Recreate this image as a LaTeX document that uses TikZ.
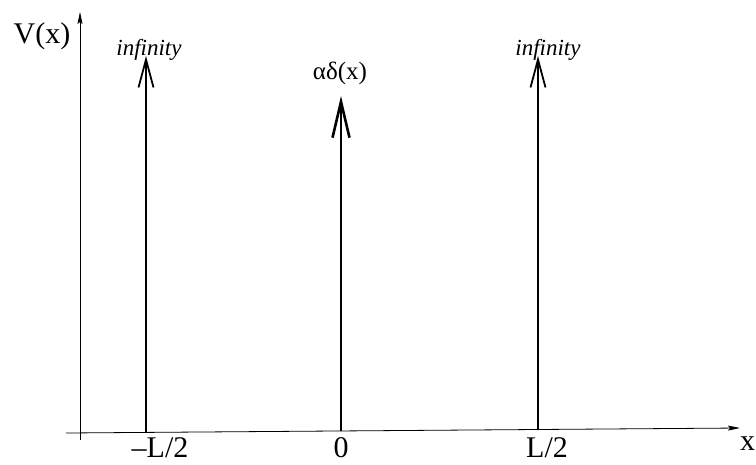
\documentclass[tikz,border=0pt]{standalone}
\usepackage{fontspec}
\setmainfont{Liberation Serif}
\usetikzlibrary{arrows.meta}
\begin{document}
\begin{tikzpicture}[x=1pt,y=-1pt,
  axis/.style={line width=0.8pt,-{Stealth[length=12pt,width=5pt,inset=2pt]}},
  spike/.style={line width=1.8pt,-{Straight Barb[length=28pt,width=15pt,line width=1.8pt]}},
  bigspike/.style={line width=2.6pt,-{Straight Barb[length=36pt,width=17pt,line width=2.6pt]}},
  lbl/.style={font=\fontsize{30}{34}\selectfont, inner sep=0pt, anchor=base},
  grk/.style={font=\fontsize{25}{28}\selectfont, inner sep=0pt, anchor=base},
  inf/.style={font=\itshape\fontsize{23}{26}\selectfont, inner sep=0pt, anchor=base}]
\useasboundingbox (0,0) rectangle (756,464);
% axes
\coordinate (ybot) at (80,440);
\coordinate (ytop) at (80,12);
\coordinate (xl) at (66,433);
\coordinate (xr) at (740,428);
\draw[axis] (ybot) -- (ytop);
\draw[axis] (xl) -- (xr);
% spikes
\coordinate (a0) at (146,432);
\coordinate (a1) at (146,56);
\coordinate (b0) at (341,431);
\coordinate (b1) at (341,96);
\coordinate (c0) at (538,429);
\coordinate (c1) at (538,56);
\draw[spike] (a0) -- (a1);
\draw[bigspike] (b0) -- (b1);
\draw[spike] (c0) -- (c1);
% labels
\node[lbl] (V) at (42,43) {V(x)};
\node[inf] (infl) at (149,55) {infinity};
\node[inf] (infr) at (548,55) {infinity};
\node[grk] (ad) at (340,79) {αδ(x)};
\node[lbl] (mL) at (160,457) {\textendash L/2};
\node[lbl] (zero) at (341,457) {0};
\node[lbl] (pL) at (547,457) {L/2};
\node[lbl,anchor=base west] (xx) at (740,450) {x};
\end{tikzpicture}
\end{document}
